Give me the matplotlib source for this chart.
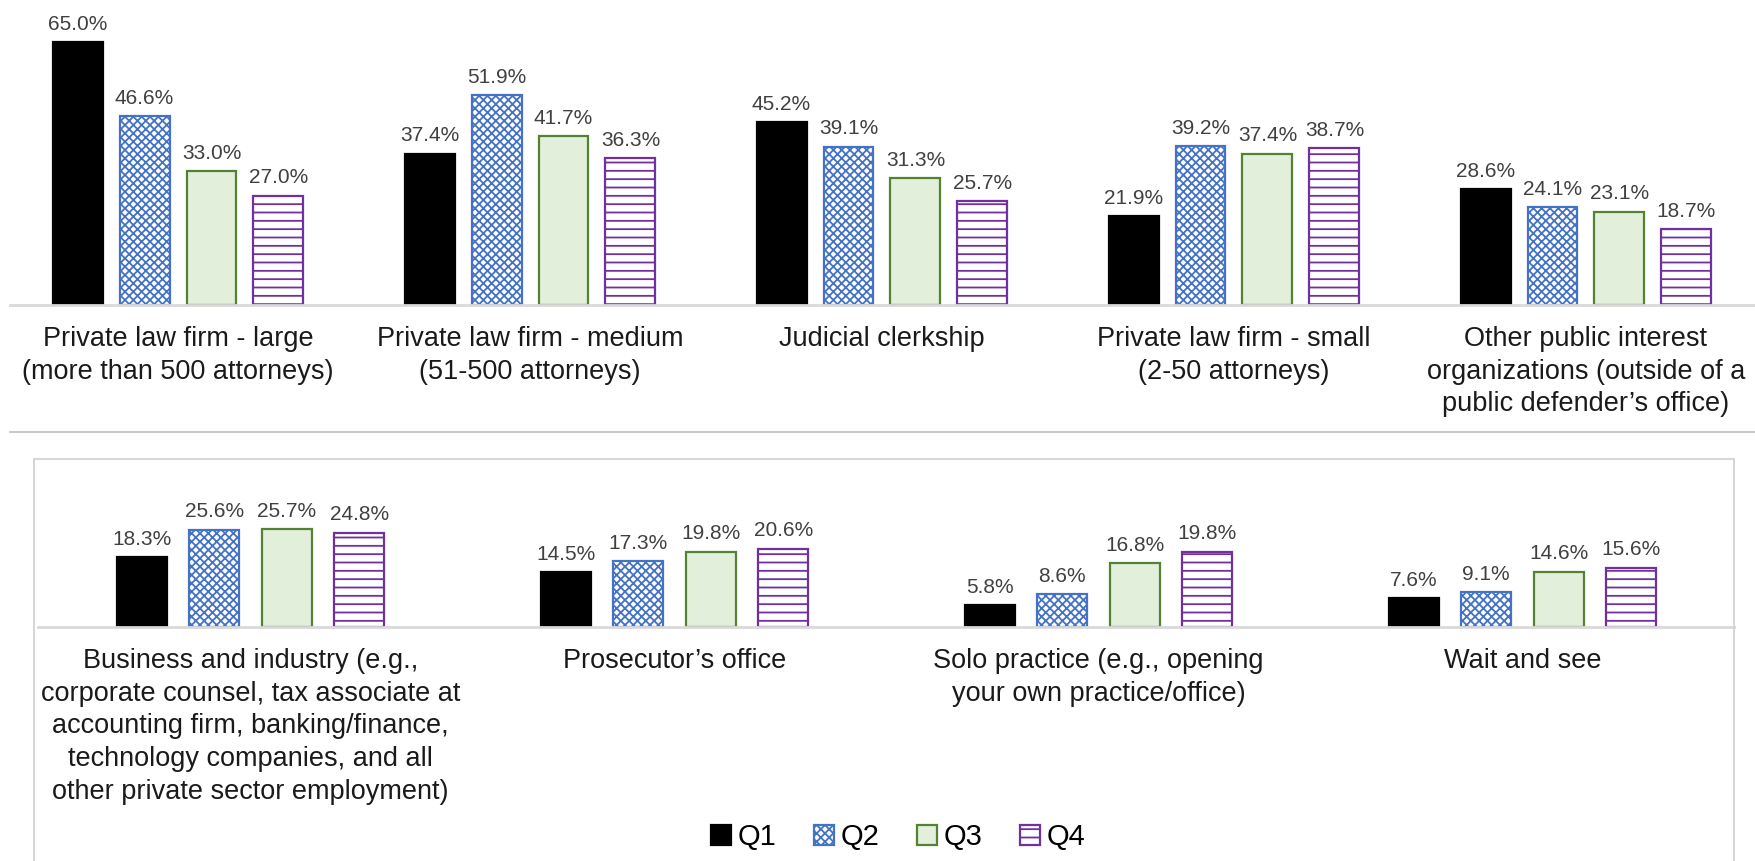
import matplotlib
matplotlib.use("Agg")
import matplotlib.pyplot as plt
from matplotlib.patches import Rectangle
from matplotlib.lines import Line2D
import numpy as np

plt.rcParams['font.family'] = ['Liberation Sans', 'DejaVu Sans']
plt.rcParams['hatch.linewidth'] = 1.3

# data
series = ["Q1", "Q2", "Q3", "Q4"]

top_labels = [
    "Private law firm - large\n(more than 500 attorneys)",
    "Private law firm - medium\n(51-500 attorneys)",
    "Judicial clerkship",
    "Private law firm - small\n(2-50 attorneys)",
    "Other public interest\norganizations (outside of a\npublic defender\u2019s office)",
]
top_q1 = [65.0, 37.4, 45.2, 21.9, 28.6]
top_q2 = [46.6, 51.9, 39.1, 39.2, 24.1]
top_q3 = [33.0, 41.7, 31.3, 37.4, 23.1]
top_q4 = [27.0, 36.3, 25.7, 38.7, 18.7]

bottom_labels = [
    "Business and industry (e.g.,\ncorporate counsel, tax associate at\naccounting firm, banking/finance,\ntechnology companies, and all\nother private sector employment)",
    "Prosecutor\u2019s office",
    "Solo practice (e.g., opening\nyour own practice/office)",
    "Wait and see",
]
bottom_q1 = [18.3, 14.5, 5.8, 7.6]
bottom_q2 = [25.6, 17.3, 8.6, 9.1]
bottom_q3 = [25.7, 19.8, 16.8, 14.6]
bottom_q4 = [24.8, 20.6, 19.8, 15.6]

# bar styles per quarter
styles = [
    dict(color="black", edgecolor="black", hatch=None),
    dict(color="white", edgecolor="#4472C4", hatch="xxxx"),
    dict(color="#E2EFDA", edgecolor="#548235", hatch=None),
    dict(color="white", edgecolor="#7030A0", hatch="--"),
]

W, H = 1756, 861
fig = plt.figure(figsize=(W / 100, H / 100), dpi=100)


def px_axes(left, right, top, bottom):
    return fig.add_axes([left / W, 1 - bottom / H, (right - left) / W, (bottom - top) / H])


def draw_panel(ax, labels, values, pitch, width):
    x = np.arange(len(labels))
    containers = []
    for i, (vals, st) in enumerate(zip(values, styles)):
        pos = x + (i - 1.5) * pitch
        bars = ax.bar(pos, vals, width, color=st["color"], edgecolor=st["edgecolor"],
                      hatch=st["hatch"], linewidth=1.6, label=series[i], zorder=2)
        containers.append(bars)
        for xb, v in zip(pos, vals):
            ax.annotate(f"{v:.1f}%", (xb, v), xytext=(0, 6), textcoords="offset points",
                        ha="center", va="bottom", fontsize=15, color="#404040")
    ax.set_xticks(x)
    ax.set_xticklabels(labels, fontsize=19.5, color="#1a1a1a", linespacing=1.34)
    ax.tick_params(axis="x", length=0, pad=15)
    ax.set_yticks([])
    for s in ["top", "left", "right"]:
        ax.spines[s].set_visible(False)
    ax.spines["bottom"].set_color("#D9D9D9")
    ax.spines["bottom"].set_linewidth(2)
    ax.patch.set_alpha(0)
    return containers


# top chart
ax1 = px_axes(10, W, 0, 305)
handles = draw_panel(ax1, top_labels, [top_q1, top_q2, top_q3, top_q4], 0.1903, 0.142)
ax1.set_xlim(-0.4773, 4.4830)
ax1.set_ylim(0, 305 / 4.046)

# separator under the top chart
fig.add_artist(Line2D([10 / W, 1], [1 - 432 / H, 1 - 432 / H], color="#BFBFBF", lw=1.2))

# frame of the bottom chart
fig.add_artist(Rectangle((34 / W, -0.05), (1734 - 34) / W, 1 - 459 / H + 0.05,
                         fill=False, edgecolor="#D0D0D0", lw=1.2))

# bottom chart
ax2 = px_axes(38, 1734, 459, 627)
draw_panel(ax2, bottom_labels, [bottom_q1, bottom_q2, bottom_q3, bottom_q4], 0.171, 0.118)
ax2.set_xlim(-0.5012, 3.4988)
ax2.set_ylim(0, 168 / 3.8)

fig.legend(handles, series, loc="center", bbox_to_anchor=(898 / W, 1 - 837 / H), ncol=4,
           frameon=False, fontsize=21, handlelength=0.7, handleheight=0.7,
           handletextpad=0.2, columnspacing=1.3)

fig.savefig("out.png", dpi=100)
